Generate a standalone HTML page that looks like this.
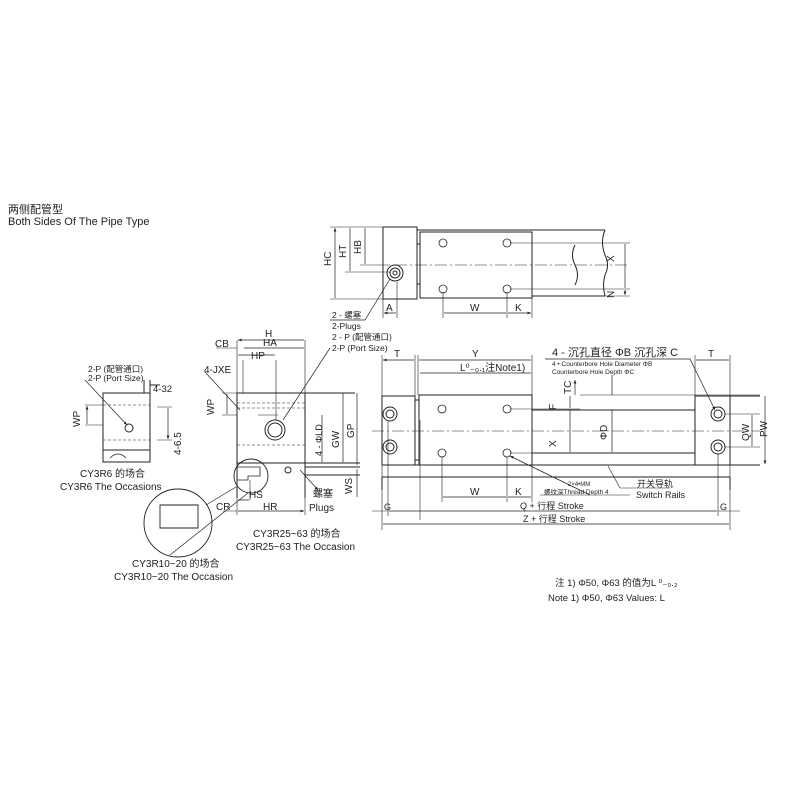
<!DOCTYPE html>
<html><head><meta charset="utf-8"><style>
body{margin:0;background:#fff}
svg{display:block}
text{font-family:"Liberation Sans","Noto Sans CJK SC",sans-serif;fill:#222}
</style></head><body>
<svg width="800" height="800" viewBox="0 0 800 800" xmlns="http://www.w3.org/2000/svg">
<defs>
<marker id="a" viewBox="0 0 10 10" refX="10" refY="5" markerWidth="5" markerHeight="5" orient="auto-start-reverse"><path d="M0,1 L10,5 L0,9z" fill="#222"/></marker>
</defs>
<g stroke="#222" fill="none" stroke-width="1">
<text x="8" y="213" font-size="11" stroke="none">两侧配管型</text>
<text x="8" y="225" font-size="11" stroke="none">Both Sides Of The Pipe Type</text>

<!-- TOP VIEW -->
<rect x="383" y="227" width="34" height="72"/>
<rect x="420" y="232" width="112" height="66"/>
<rect x="417" y="244" width="3" height="40"/>
<path d="M417,230 H605 M532,296 H605 M575,245 q-5,10 0,20 q5,10 0,20 M605,230 q-5,12 0,25 q5,10 0,20 q-3,10 0,21"/>
<path d="M395,265 H630" stroke-dasharray="12,3,2,3" stroke-width=".6"/>
<circle cx="395" cy="273" r="8"/><circle cx="395" cy="273" r="5"/><circle cx="395" cy="273" r="2"/>
<g stroke-width=".8">
<circle cx="443" cy="243" r="4"/><circle cx="507" cy="243" r="4"/><circle cx="443" cy="289" r="4"/><circle cx="507" cy="289" r="4"/>
</g>
<path d="M510,243 H630 M510,289 H630 M532,296 H630 M330,227 H383 M345,272 H390 M360,265 H390" stroke-width=".6"/>
<path d="M335,228 V298 M350,228 V271 M365,228 V264 M625,244 V288 M625,290 V295" marker-start="url(#a)" marker-end="url(#a)" stroke-width=".7"/>
<path d="M330,299 H383 M383,299 V318 M397,282 V318 M443,292 V318 M507,292 V318 M532,298 V318" stroke-width=".6"/>
<path d="M384,313 H396 M444,313 H506 M508,313 H531" marker-start="url(#a)" marker-end="url(#a)" stroke-width=".7"/>
<path d="M390,279 L365,320 H330" stroke-width=".7"/>
</g>
<g font-size="10" stroke="none">
<text transform="translate(331,266) rotate(-90)">HC</text>
<text transform="translate(346,258) rotate(-90)">HT</text>
<text transform="translate(361,254) rotate(-90)">HB</text>
<text transform="translate(614,262) rotate(-90)">X</text>
<text transform="translate(614,298) rotate(-90)">N</text>
<text x="386" y="311">A</text><text x="470" y="311">W</text><text x="515" y="311">K</text>
<text x="332" y="318" font-size="8.5">2 - 螺塞</text>
<text x="332" y="329" font-size="8.5">2-Plugs</text>
<text x="332" y="340" font-size="8.5">2 - P (配管通口)</text>
<text x="332" y="351" font-size="8.5">2-P (Port Size)</text>
</g>

<!-- FRONT VIEW -->
<g stroke="#222" fill="none" stroke-width="1">
<rect x="382" y="396" width="33" height="69"/>
<rect x="419" y="395" width="113" height="70"/>
<rect x="415" y="400" width="4" height="60"/>
<rect x="695" y="396" width="35" height="69"/>
<path d="M532,410 H695 M532,453 H695 M730,396 H760 M730,465 H760 M382,465 H760 M382,477 H730 M382,477 V490 M730,477 V490"/>
<path d="M372,431 H760" stroke-dasharray="12,3,2,3" stroke-width=".6"/>
<g><circle cx="390" cy="414" r="7"/><circle cx="390" cy="414" r="4"/><circle cx="390" cy="447" r="7"/><circle cx="390" cy="447" r="4"/>
<circle cx="718" cy="414" r="7"/><circle cx="718" cy="414" r="4"/><circle cx="718" cy="447" r="7"/><circle cx="718" cy="447" r="4"/></g>
<g stroke-width=".8"><circle cx="442" cy="409" r="4"/><circle cx="507" cy="409" r="4"/><circle cx="442" cy="453" r="4"/><circle cx="507" cy="453" r="4"/></g>
<g stroke-width=".6">
<path d="M382,355 V396 M415,355 V396 M418,355 V395 M532,355 V395 M695,355 V396 M730,355 V396 M620,395 H580 M510,409 H580 M510,453 H580 M580,395 H760 M725,414 H760 M725,447 H760"/>
<path d="M442,457 V502 M507,457 V502 M532,465 V502 M388,420 V516 M718,454 V516 M382,465 V530 M730,465 V530"/>
<path d="M420,420 V520"/>
</g>
<g stroke-width=".7" marker-start="url(#a)" marker-end="url(#a)">
<path d="M383,360 H414 M419,360 H531 M420,373 H531 M696,360 H729 M443,497 H506 M508,497 H531 M389,511 H717 M383,524 H729 M570,396 V408 M570,410 V452 M612,375 V395 M612,410 V452 M752,415 V446 M765,396 V464"/>
<path d="M575,395 V380" marker-start="none"/>
</g>
<path d="M372,511 H388 M718,511 H740" stroke-width=".6"/>
<path d="M545,359 H690 L715,410" stroke-width=".7" marker-end="url(#a)"/>
<path d="M590,495 L510,456" stroke-width=".7" marker-end="url(#a)"/>
<path d="M540,495 H630 M620,488 L608,466 M620,488 H670" stroke-width=".6"/>
</g>
<g font-size="10" stroke="none">
<text x="394" y="357">T</text><text x="472" y="357">Y</text><text x="708" y="357">T</text>
<text x="460" y="371">L⁰₋₀.₁注Note1)</text>
<text x="552" y="356" font-size="11">4 - 沉孔直径 ΦB 沉孔深 C</text>
<text x="552" y="366" font-size="6.5">4 • Counterbore Hole Diameter ΦB</text>
<text x="552" y="374" font-size="6.5">Counterbore Hole Depth ΦC</text>
<text transform="translate(571,394) rotate(-90)">TC</text>
<text transform="translate(556,410) rotate(-90)">F</text>
<text transform="translate(556,447) rotate(-90)">X</text>
<text transform="translate(607,440) rotate(-90)">ΦD</text>
<text transform="translate(749,441) rotate(-90)">QW</text>
<text transform="translate(767,437) rotate(-90)">PW</text>
<text x="470" y="495">W</text><text x="515" y="495">K</text>
<text x="568" y="486" font-size="6">2×4•MM</text>
<text x="544" y="494" font-size="6.5">螺纹深Thread Depth 4</text>
<text x="637" y="487" font-size="9">开关导轨</text>
<text x="636" y="498" font-size="9">Switch Rails</text>
<text x="384" y="510" font-size="9">G</text><text x="720" y="510" font-size="9">G</text>
<text x="520" y="509" font-size="9">Q + 行程 Stroke</text>
<text x="523" y="522" font-size="9">Z + 行程 Stroke</text>
<text x="555" y="586" font-size="9.5">注 1) Φ50, Φ63 的值为L ⁰₋₀.₂</text>
<text x="548" y="601" font-size="9.5">Note 1) Φ50, Φ63 Values: L</text>
</g>

<!-- SIDE VIEW -->
<g stroke="#222" fill="none" stroke-width="1">
<rect x="237" y="393" width="68" height="70"/>
<path d="M237,463 V498 M305,463 V498 M237,463 H305 M305,393 H355 M305,463 H360 M305,467 H360 M305,475 H360"/>
<path d="M237,408 H305 M237,445 H305 M237,403 H305" stroke-dasharray="3,2" stroke-width=".6"/>
<path d="M237,467 H260 V476 H248 V480 H237" stroke-width=".8"/>
<circle cx="275" cy="430" r="10"/><circle cx="275" cy="430" r="7"/>
<circle cx="288" cy="470" r="3"/>
<circle cx="251" cy="476" r="17" stroke-width=".9"/>
<circle cx="178" cy="523" r="34" stroke-width=".9"/>
<path d="M236,487 L206,505 M248,493 L170,555" stroke-width=".7"/>
<path d="M160,505 H198 V528 H160z" stroke-width=".9"/>
<g stroke-width=".6">
<path d="M237,340 V393 M305,340 V393 M243,360 V393 M276,360 V420 M222,393 H237 M222,415 H237 M237,498 V515 M305,498 V515 M250,480 V500 M258,415 H278"/>
</g>
<g stroke-width=".7" marker-start="url(#a)" marker-end="url(#a)">
<path d="M238,340 H304 M244,348 H304 M238,355 H275 M227,394 V414 M322,415 V462 M343,393 V462 M357,393 V465 M357,469 V497 M238,500 H249 M238,511 H304"/>
</g>
<path d="M216,348 H237 M223,511 H237" stroke-width=".6"/>
<path d="M205,372 L240,410 M330,348 L283,420 M300,470 L318,490" stroke-width=".7" marker-end="url(#a)"/>
<!-- small view -->
<rect x="103" y="393" width="47" height="57"/>
<path d="M103,450 H150 V462 H103z M150,393 V380 M144,393 V380 M150,385 H160"/>
<path d="M103,405 H150 M103,440 H150" stroke-dasharray="3,2" stroke-width=".6"/>
<circle cx="129" cy="428" r="4"/>
<path d="M110,458 q8,-8 16,0" stroke-width=".7"/>
<path d="M85,405 H103 M85,425 H103 M157,407 H172 M157,440 H172" stroke-width=".6"/>
<path d="M87,406 V424 M168,408 V439" stroke-width=".7" marker-start="url(#a)" marker-end="url(#a)"/>
<path d="M85,380 L127,425" stroke-width=".7" marker-end="url(#a)"/>
</g>
<g font-size="10" stroke="none">
<text x="265" y="337">H</text><text x="263" y="346">HA</text><text x="251" y="359">HP</text>
<text x="215" y="347">CB</text><text x="204" y="373">4-JXE</text>
<text transform="translate(214,415) rotate(-90)">WP</text>
<text transform="translate(322,456) rotate(-90)" font-size="9">4 - ΦLD</text>
<text transform="translate(339,448) rotate(-90)">GW</text>
<text transform="translate(354,438) rotate(-90)">GP</text>
<text transform="translate(352,494) rotate(-90)">WS</text>
<text x="249" y="498">HS</text><text x="216" y="510">CR</text><text x="263" y="510">HR</text>
<text x="313" y="497">螺塞</text><text x="309" y="511">Plugs</text>
<text x="253" y="537">CY3R25~63 的场合</text>
<text x="236" y="550">CY3R25~63 The Occasion</text>
<text x="132" y="567">CY3R10~20 的场合</text>
<text x="114" y="580">CY3R10~20 The Occasion</text>
<text x="88" y="372" font-size="8.5">2-P (配管通口)</text>
<text x="88" y="381" font-size="8.5">2-P (Port Size)</text>
<text x="153" y="392" font-size="9.5">4-32</text>
<text transform="translate(80,427) rotate(-90)">WP</text>
<text transform="translate(181,455) rotate(-90)">4-6.5</text>
<text x="80" y="477">CY3R6 的场合</text>
<text x="60" y="490">CY3R6 The Occasions</text>
</g>
</svg>
</body></html>
